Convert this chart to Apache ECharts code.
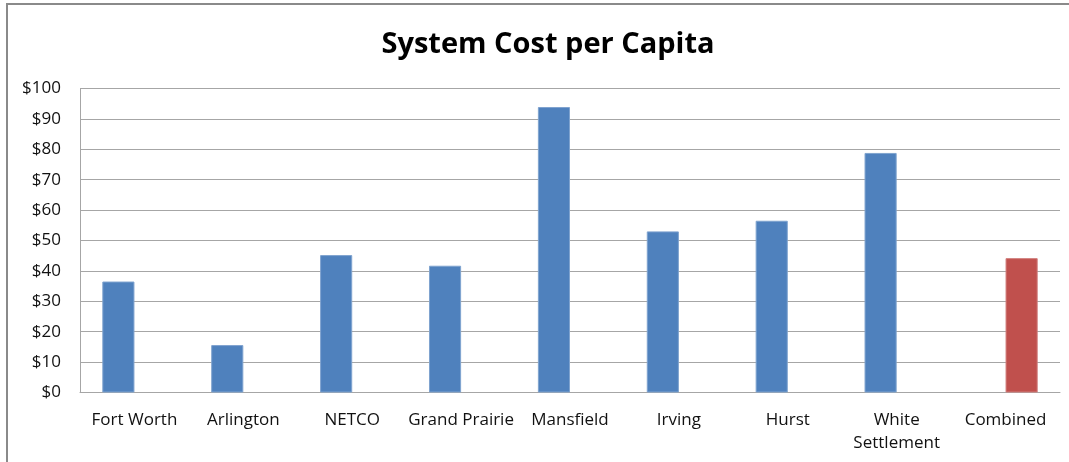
<!DOCTYPE html>
<html>
<head>
<meta charset="utf-8">
<style>
  html, body { margin: 0; padding: 0; background: #fff; }
  #chart { width: 1069px; height: 462px; }
</style>
<script src="https://cdn.jsdelivr.net/npm/echarts@6/dist/echarts.min.js"></script>
</head>
<body>
<div id="chart"></div>
<script>
// Per-capita system cost by city, plus the combined system
const categories = ['Fort Worth', 'Arlington', 'NETCO', 'Grand Prairie', 'Mansfield', 'Irving', 'Hurst', 'White\nSettlement', 'Combined'];
const cityCost = [36.5, 15.6, 45.2, 41.7, 93.9, 53.0, 56.5, 78.8, null];
const combinedCost = [null, null, null, null, null, null, null, null, 44.2];
const yTicks = { min: 0, max: 100, step: 10 };

const textFont = '"Open Sans", "Noto Sans", sans-serif';
const chart = echarts.init(document.getElementById('chart'), null, { renderer: 'canvas' });

chart.setOption({
  animation: false,
  backgroundColor: '#ffffff',
  title: {
    text: 'System Cost per Capita',
    left: 543,
    textAlign: 'center',
    top: 25,
    textStyle: { fontFamily: textFont, fontWeight: 'bold', fontSize: 29, color: '#000' }
  },
  graphic: [{
    type: 'rect',
    shape: { x: 7, y: 4, width: 1100, height: 520 },
    style: { fill: 'none', stroke: '#8a8a8a', lineWidth: 2 },
    silent: true
  }],
  grid: { left: 80, right: 9, top: 88.5, bottom: 69.5 },
  xAxis: {
    type: 'category',
    data: categories,
    axisLine: { show: true, lineStyle: { color: '#a6a6a6', width: 1 } },
    axisTick: { show: false },
    axisLabel: {
      interval: 0,
      margin: 16,
      fontFamily: textFont,
      fontSize: 17,
      lineHeight: 23,
      color: '#111'
    }
  },
  yAxis: {
    type: 'value',
    min: yTicks.min,
    max: yTicks.max,
    interval: yTicks.step,
    axisLine: { show: true, lineStyle: { color: '#a6a6a6', width: 1 } },
    axisTick: { show: false },
    splitLine: { show: true, lineStyle: { color: '#a6a6a6', width: 1 } },
    axisLabel: {
      margin: 19,
      fontFamily: textFont,
      fontSize: 17,
      color: '#111',
      formatter: v => '$' + v
    }
  },
  series: [
    {
      name: 'City',
      type: 'bar',
      data: cityCost,
      barGap: '0%',
      barCategoryGap: '41%',
      itemStyle: { color: '#4f81bd', borderColor: '#7fa3cf', borderWidth: 1 }
    },
    {
      name: 'Combined',
      type: 'bar',
      data: combinedCost,
      barGap: '0%',
      barCategoryGap: '41%',
      itemStyle: { color: '#c0504d', borderColor: '#d07c7a', borderWidth: 1 }
    }
  ]
});
</script>
</body>
</html>
